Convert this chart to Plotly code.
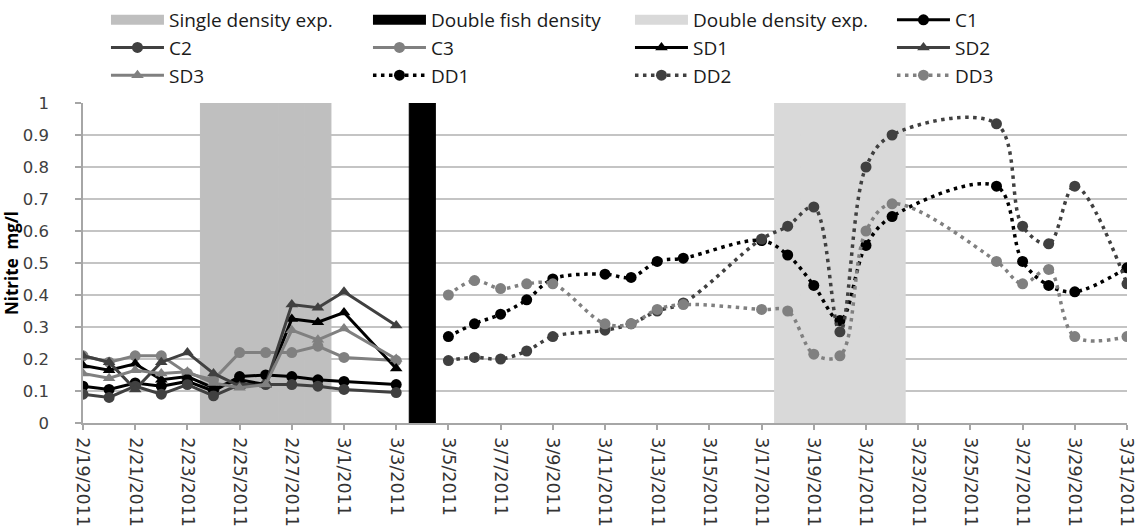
import plotly.graph_objects as go

# --- sampling dates and nitrite readings (mg/l) -------------------------------
# Control (C) and single-density (SD) tanks
sd_dates = ["2011-02-19", "2011-02-20", "2011-02-21", "2011-02-22", "2011-02-23",
            "2011-02-24", "2011-02-25", "2011-02-26", "2011-02-27", "2011-02-28",
            "2011-03-01", "2011-03-03"]
c1 = [0.115, 0.105, 0.125, 0.115, 0.13, 0.10, 0.145, 0.15, 0.145, 0.135, 0.13, 0.12]
c2 = [0.09, 0.08, 0.115, 0.09, 0.12, 0.085, 0.12, 0.12, 0.12, 0.115, 0.105, 0.095]
c3 = [0.21, 0.19, 0.21, 0.21, 0.155, 0.135, 0.22, 0.22, 0.22, 0.24, 0.205, 0.195]
sd1 = [0.18, 0.165, 0.185, 0.135, 0.145, 0.11, 0.135, 0.12, 0.325, 0.315, 0.345, 0.17]
sd2 = [0.21, 0.19, 0.105, 0.19, 0.22, 0.155, 0.115, 0.12, 0.37, 0.36, 0.41, 0.305]
sd3 = [0.155, 0.14, 0.165, 0.155, 0.16, 0.125, 0.11, 0.12, 0.29, 0.26, 0.295, 0.20]

# Double-density (DD) tanks
dd_dates = ["2011-03-05", "2011-03-06", "2011-03-07", "2011-03-08", "2011-03-09",
            "2011-03-11", "2011-03-12", "2011-03-13", "2011-03-14", "2011-03-17",
            "2011-03-18", "2011-03-19", "2011-03-20", "2011-03-21", "2011-03-22",
            "2011-03-26", "2011-03-27", "2011-03-28", "2011-03-29", "2011-03-31"]
dd1 = [0.27, 0.31, 0.34, 0.385, 0.45, 0.465, 0.455, 0.505, 0.515, 0.57,
       0.525, 0.43, 0.32, 0.555, 0.645, 0.74, 0.505, 0.43, 0.41, 0.485]
dd2 = [0.195, 0.205, 0.20, 0.225, 0.27, 0.29, 0.31, 0.35, 0.375, 0.575,
       0.615, 0.675, 0.285, 0.80, 0.90, 0.935, 0.615, 0.56, 0.74, 0.435]
dd3 = [0.40, 0.445, 0.42, 0.435, 0.435, 0.31, 0.31, 0.355, 0.37, 0.355,
       0.35, 0.215, 0.21, 0.60, 0.685, 0.505, 0.435, 0.48, 0.27, 0.27]

# Experiment periods (one full-height column per day)
single_density_days = ["2011-02-24", "2011-02-25", "2011-02-26", "2011-02-27", "2011-02-28"]
single_density_level = [1, 1, 1, 1, 1]
double_fish_days = ["2011-03-04"]
double_fish_level = [1]
double_density_days = ["2011-03-18", "2011-03-19", "2011-03-20", "2011-03-21", "2011-03-22"]
double_density_level = [1, 1, 1, 1, 1]

DAY_MS = 24 * 60 * 60 * 1000

BLACK = "#000000"
DARK = "#404040"
MID = "#808080"
TEXT_FONT = "Open Sans"
TICK_FONT = "DejaVu Sans"

fig = go.Figure()

# Shaded experiment periods
periods = [
    ("Single density exp.", single_density_days, single_density_level, "#BFBFBF"),
    ("Double fish density", double_fish_days, double_fish_level, BLACK),
    ("Double density exp.", double_density_days, double_density_level, "#D9D9D9"),
]
for name, days, level, color in periods:
    fig.add_trace(go.Bar(
        x=days, y=level, width=[DAY_MS] * len(days),
        marker=dict(color=color, line=dict(color=color, width=1)),
        name=name, legendgroup=name, showlegend=False, hoverinfo="skip",
    ))
# Wide swatches for the period legend entries
for name, days, level, color in periods:
    fig.add_trace(go.Scatter(
        x=[None], y=[None], mode="lines", name=name, legendgroup=name,
        line=dict(color=color, width=10),
    ))

# Control and single-density series (straight segments)
solid_series = [
    ("C1", c1, BLACK, "circle"),
    ("C2", c2, DARK, "circle"),
    ("C3", c3, MID, "circle"),
    ("SD1", sd1, BLACK, "triangle-up"),
    ("SD2", sd2, DARK, "triangle-up"),
    ("SD3", sd3, MID, "triangle-up"),
]
for name, vals, color, symbol in solid_series:
    fig.add_trace(go.Scatter(
        x=sd_dates, y=vals, name=name, mode="lines+markers",
        line=dict(color=color, width=3),
        marker=dict(color=color, symbol=symbol, size=11, line=dict(width=0)),
    ))

# Double-density series (smoothed, dotted)
dotted_series = [("DD1", dd1, BLACK), ("DD2", dd2, DARK), ("DD3", dd3, MID)]
for name, vals, color in dotted_series:
    fig.add_trace(go.Scatter(
        x=dd_dates, y=vals, name=name, mode="lines+markers",
        line=dict(color=color, width=3.5, dash="3.5px,4.5px", shape="spline", smoothing=1),
        marker=dict(color=color, symbol="circle", size=11, line=dict(width=0)),
    ))

axis_grey = "#A6A6A6"
fig.update_layout(
    width=1137, height=530,
    margin=dict(l=83, r=10, t=103, b=107, autoexpand=False),
    paper_bgcolor="white", plot_bgcolor="white",
    barmode="overlay",
    font=dict(family=TEXT_FONT, color="#404040"),
    showlegend=True,
    legend=dict(
        orientation="h", x=0.022, xanchor="left", y=1.319, yanchor="top",
        entrywidth=194, entrywidthmode="pixels", itemwidth=53,
        font=dict(family=TEXT_FONT, size=19, color="#1A1A1A"),
        traceorder="normal", bgcolor="rgba(0,0,0,0)",
    ),
    xaxis=dict(
        type="date", range=["2011-02-19", "2011-03-31"],
        tick0="2011-02-19", dtick=2 * DAY_MS, tickformat="%-m/%-d/%Y",
        tickangle=90, ticks="outside", ticklen=5, tickcolor=axis_grey, tickwidth=1.5,
        ticklabelstandoff=4, ticklabeloverflow="allow",
        showline=True, linecolor=axis_grey, linewidth=1.5, showgrid=False,
        tickfont=dict(family=TICK_FONT, size=17.5, color="#333333"),
        automargin=False,
    ),
    yaxis=dict(
        range=[0, 1], dtick=0.1, tick0=0,
        ticks="outside", ticklen=6, tickcolor=axis_grey, tickwidth=1.5,
        ticklabelstandoff=23,
        showline=True, linecolor=axis_grey, linewidth=1.5,
        showgrid=True, gridcolor="#C4C4C4", gridwidth=1.6, zeroline=False,
        tickfont=dict(family=TICK_FONT, size=16.5, color="#404040"),
        title=dict(text="Nitrite  mg/l", standoff=4,
                   font=dict(family=TEXT_FONT, size=17, color="#000000", weight="bold")),
        automargin=True,
    ),
)

fig.write_html("out.html")
